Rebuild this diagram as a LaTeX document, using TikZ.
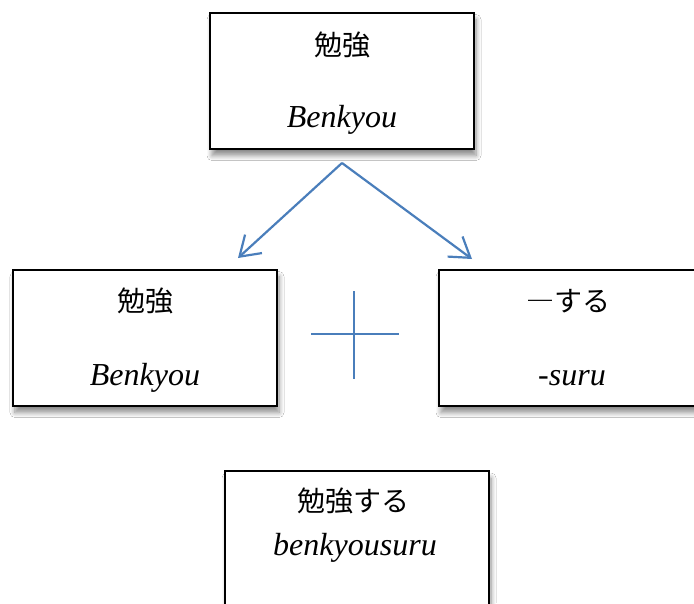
\documentclass[tikz,border=0pt]{standalone}
\usepackage{fontspec}
\setmainfont{Liberation Serif}
\newfontfamily\cjk{Noto Sans CJK JP}
\usetikzlibrary{arrows.meta,shadows.blur}
\definecolor{arrowblue}{HTML}{4A7EBB}
\tikzset{
  wordbox/.style={draw=black, line width=2pt, fill=white, minimum width=264pt, minimum height=136pt, inner sep=0pt,
    blur shadow={shadow xshift=2pt, shadow yshift=-7pt, shadow blur radius=5pt, shadow blur steps=8, shadow opacity=45}},
  jp/.style={font=\cjk\fontsize{28}{30}\selectfont, inner sep=0pt},
  lat/.style={font=\fontsize{32}{34}\selectfont\itshape, inner sep=0pt, anchor=base},
  splitarrow/.style={draw=arrowblue, line width=2.2pt, -{Straight Barb[length=19pt,width=25pt,line width=2.2pt]}},
  plusline/.style={draw=arrowblue, line width=1.5pt}
}
\begin{document}
\begin{tikzpicture}[x=1pt,y=-1pt]
\useasboundingbox (0,0) rectangle (694,603);
\fill[white] (0,0) rectangle (694,603);
% boxes
\node[wordbox] (top) at (342,80.5) {};
\node[wordbox] (left) at (145,337.5) {};
\node[wordbox] (right) at (571,337.5) {};
\node[wordbox] (bottom) at (357,539) {};
% texts
\node[jp] (topjp) at (342,45) {勉強};
\node[lat] (toplat) at (342,127) {Benkyou};
\node[jp] (leftjp) at (145,301) {勉強};
\node[lat] (leftlat) at (145,385) {Benkyou};
\node[jp] (rightjp) at (568,301) {―する};
\node[lat] (rightlat) at (572,385) {-suru};
\node[jp] (botjp) at (353,501) {勉強する};
\node[lat] (botlat) at (355,555) {benkyousuru};
% arrows
\coordinate (apex) at (342,163);
\coordinate (lefttip) at (238,258);
\coordinate (righttip) at (472,259);
\draw[splitarrow] (apex) -- (lefttip);
\draw[splitarrow] (apex) -- (righttip);
% plus sign
\coordinate (plusW) at (311,334);
\coordinate (plusE) at (399,334);
\coordinate (plusN) at (354,291);
\coordinate (plusS) at (354,379);
\draw[plusline] (plusW) -- (plusE);
\draw[plusline] (plusN) -- (plusS);
\end{tikzpicture}
\end{document}
